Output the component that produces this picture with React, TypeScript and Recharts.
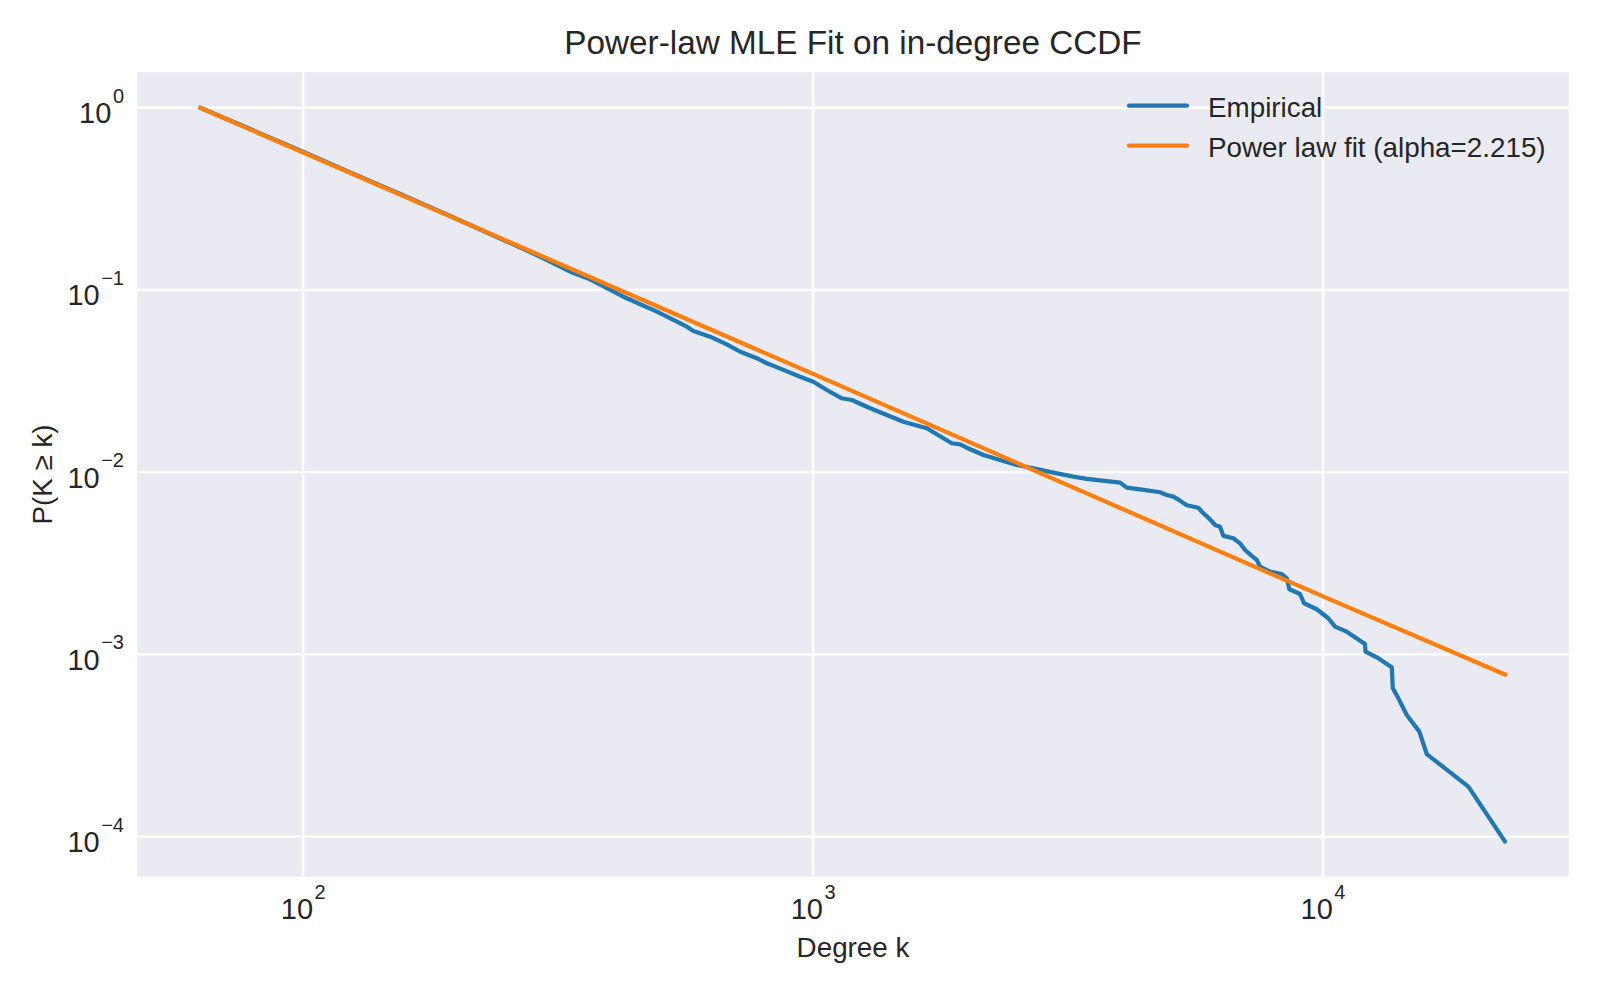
import { CartesianGrid, Line, LineChart, XAxis, YAxis } from "recharts";

const empiricalDegree = [
  62.8, 78.7, 98.6, 123.6, 154.9, 194.2, 243.4, 278.7, 305, 333.9, 365.4, 424.6,
  493.8, 532.2, 565.4, 582.5, 628.2, 677.1, 719.6, 775.6, 811.5, 874.5, 942.9,
  1001, 1064, 1138, 1191, 1294, 1395, 1503, 1671, 1801, 1870, 1942, 2001, 2158,
  2326, 2508, 2704, 2959, 3239, 3441, 3999, 4122, 4377, 4790, 4937, 5086, 5243,
  5404, 5694, 5783, 6004, 6141, 6281, 6375, 6669, 6874, 7031, 7247, 7413, 7524,
  7873, 8299, 8489, 8589, 9013, 9178, 9720, 10242, 10557, 11128, 12088, 12115,
  12834, 13640, 13702, 14052, 14596, 15448, 15973, 19275, 22746,
];

const empiricalCcdf = [
  1.0, 0.764, 0.582, 0.442, 0.336, 0.2545, 0.1916, 0.1615, 0.1429, 0.1259,
  0.1144, 0.0918, 0.076, 0.0684, 0.0629, 0.0595, 0.0554, 0.0503, 0.0458, 0.0422,
  0.0396, 0.0364, 0.0334, 0.03137, 0.02825, 0.02543, 0.02489, 0.02242, 0.0206,
  0.01892, 0.01741, 0.01535, 0.01441, 0.01422, 0.01362, 0.01243, 0.01167,
  0.01095, 0.01051, 0.00994, 0.00945, 0.00918, 0.00876, 0.00822, 0.00805,
  0.00776, 0.0075, 0.00734, 0.00698, 0.00658, 0.00638, 0.00607, 0.00551,
  0.00513, 0.00502, 0.00447, 0.00434, 0.00407, 0.00374, 0.00347, 0.0033,
  0.00303, 0.002844, 0.002763, 0.002617, 0.002277, 0.002146, 0.001909,
  0.001769, 0.001579, 0.00142, 0.001333, 0.001141, 0.001035, 0.000953, 0.00085,
  0.000652, 0.000574, 0.000465, 0.000377, 0.000284, 0.000188, 0.0000939,
];

const fitDegree = [62.8, 100, 1000, 10000, 22800];
const fitCcdf = [1.0, 0.568, 0.0346, 0.00208, 0.000773];

const xTicks = [100, 1000, 10000];
const yTicks = [0.0001, 0.001, 0.01, 0.1, 1];

const FONT = '"Liberation Sans", Arial, sans-serif';
const INK = "#262626";
const BLUE = "#1f77b4";
const ORANGE = "#ff7f0e";

const empiricalData = empiricalDegree.map((k, i) => ({ k, p: empiricalCcdf[i] }));
const fitData = fitDegree.map((k, i) => ({ k, p: fitCcdf[i] }));

function expLabel(v: number): string {
  const e = Math.round(Math.log10(v));
  return e < 0 ? `\u2212${-e}` : `${e}`;
}

type TickProps = { x?: number; y?: number; payload?: { value: number } };

function XTick({ x = 0, y = 0, payload }: TickProps) {
  if (!payload) return null;
  return (
    <text x={x} y={y + 40.5} textAnchor="middle" fill={INK} fontFamily={FONT} fontSize={29}>
      <tspan>10</tspan>
      <tspan dx={1.5} dy={-20} fontSize={20}>
        {expLabel(payload.value)}
      </tspan>
    </text>
  );
}

function YTick({ x = 0, y = 0, payload }: TickProps) {
  if (!payload) return null;
  return (
    <text x={x - 12} y={y + 15.5} textAnchor="end" fill={INK} fontFamily={FONT} fontSize={29}>
      <tspan>10</tspan>
      <tspan dx={1.5} dy={-20.5} fontSize={20}>
        {expLabel(payload.value)}
      </tspan>
    </text>
  );
}

export default function App() {
  return (
    <div style={{ position: "absolute", left: 0, top: 0, width: 1600, height: 1000, background: "#fff" }}>
      <LineChart
        width={1600}
        height={1000}
        margin={{ top: 71, right: 30, bottom: 0, left: 0 }}
      >
        <CartesianGrid fill="#eaeaf2" stroke="#ffffff" strokeWidth={2.4} />
        <XAxis
          dataKey="k"
          type="number"
          scale="log"
          domain={[47, 30500]}
          allowDataOverflow
          ticks={xTicks}
          tick={<XTick />}
          axisLine={false}
          tickLine={false}
          tickSize={0}
          tickMargin={0}
          height={122}
        />
        <YAxis
          dataKey="p"
          type="number"
          scale="log"
          domain={[5.93e-5, 1.59]}
          allowDataOverflow
          ticks={yTicks}
          tick={<YTick />}
          axisLine={false}
          tickLine={false}
          tickSize={0}
          tickMargin={0}
          width={136}
        />
        <Line
          data={empiricalData}
          dataKey="p"
          type="linear"
          stroke={BLUE}
          strokeWidth={4.2}
          strokeLinecap="round"
          strokeLinejoin="round"
          dot={false}
          isAnimationActive={false}
        />
        <Line
          data={fitData}
          dataKey="p"
          type="linear"
          stroke={ORANGE}
          strokeWidth={4.2}
          strokeLinecap="round"
          dot={false}
          isAnimationActive={false}
        />
      </LineChart>
      <svg
        width={1600}
        height={1000}
        style={{ position: "absolute", left: 0, top: 0, pointerEvents: "none" }}
      >
        <text x={853} y={53.5} textAnchor="middle" fill={INK} fontFamily={FONT} fontSize={33.3}>
          Power-law MLE Fit on in-degree CCDF
        </text>
        <text x={853} y={956.5} textAnchor="middle" fill={INK} fontFamily={FONT} fontSize={27.8}>
          Degree k
        </text>
        <text
          x={52}
          y={474.5}
          textAnchor="middle"
          transform="rotate(-90 52 474.5)"
          fill={INK}
          fontFamily={FONT}
          fontSize={27.8}
        >
          P(K ≥ k)
        </text>
        <line x1={1129} y1={105.7} x2={1187} y2={105.7} stroke={BLUE} strokeWidth={4.2} strokeLinecap="round" />
        <text x={1208} y={116.5} fill={INK} fontFamily={FONT} fontSize={27.8}>
          Empirical
        </text>
        <line x1={1129} y1={145.7} x2={1187} y2={145.7} stroke={ORANGE} strokeWidth={4.2} strokeLinecap="round" />
        <text x={1208} y={156.5} fill={INK} fontFamily={FONT} fontSize={27.8}>
          Power law fit (alpha=2.215)
        </text>
      </svg>
    </div>
  );
}
